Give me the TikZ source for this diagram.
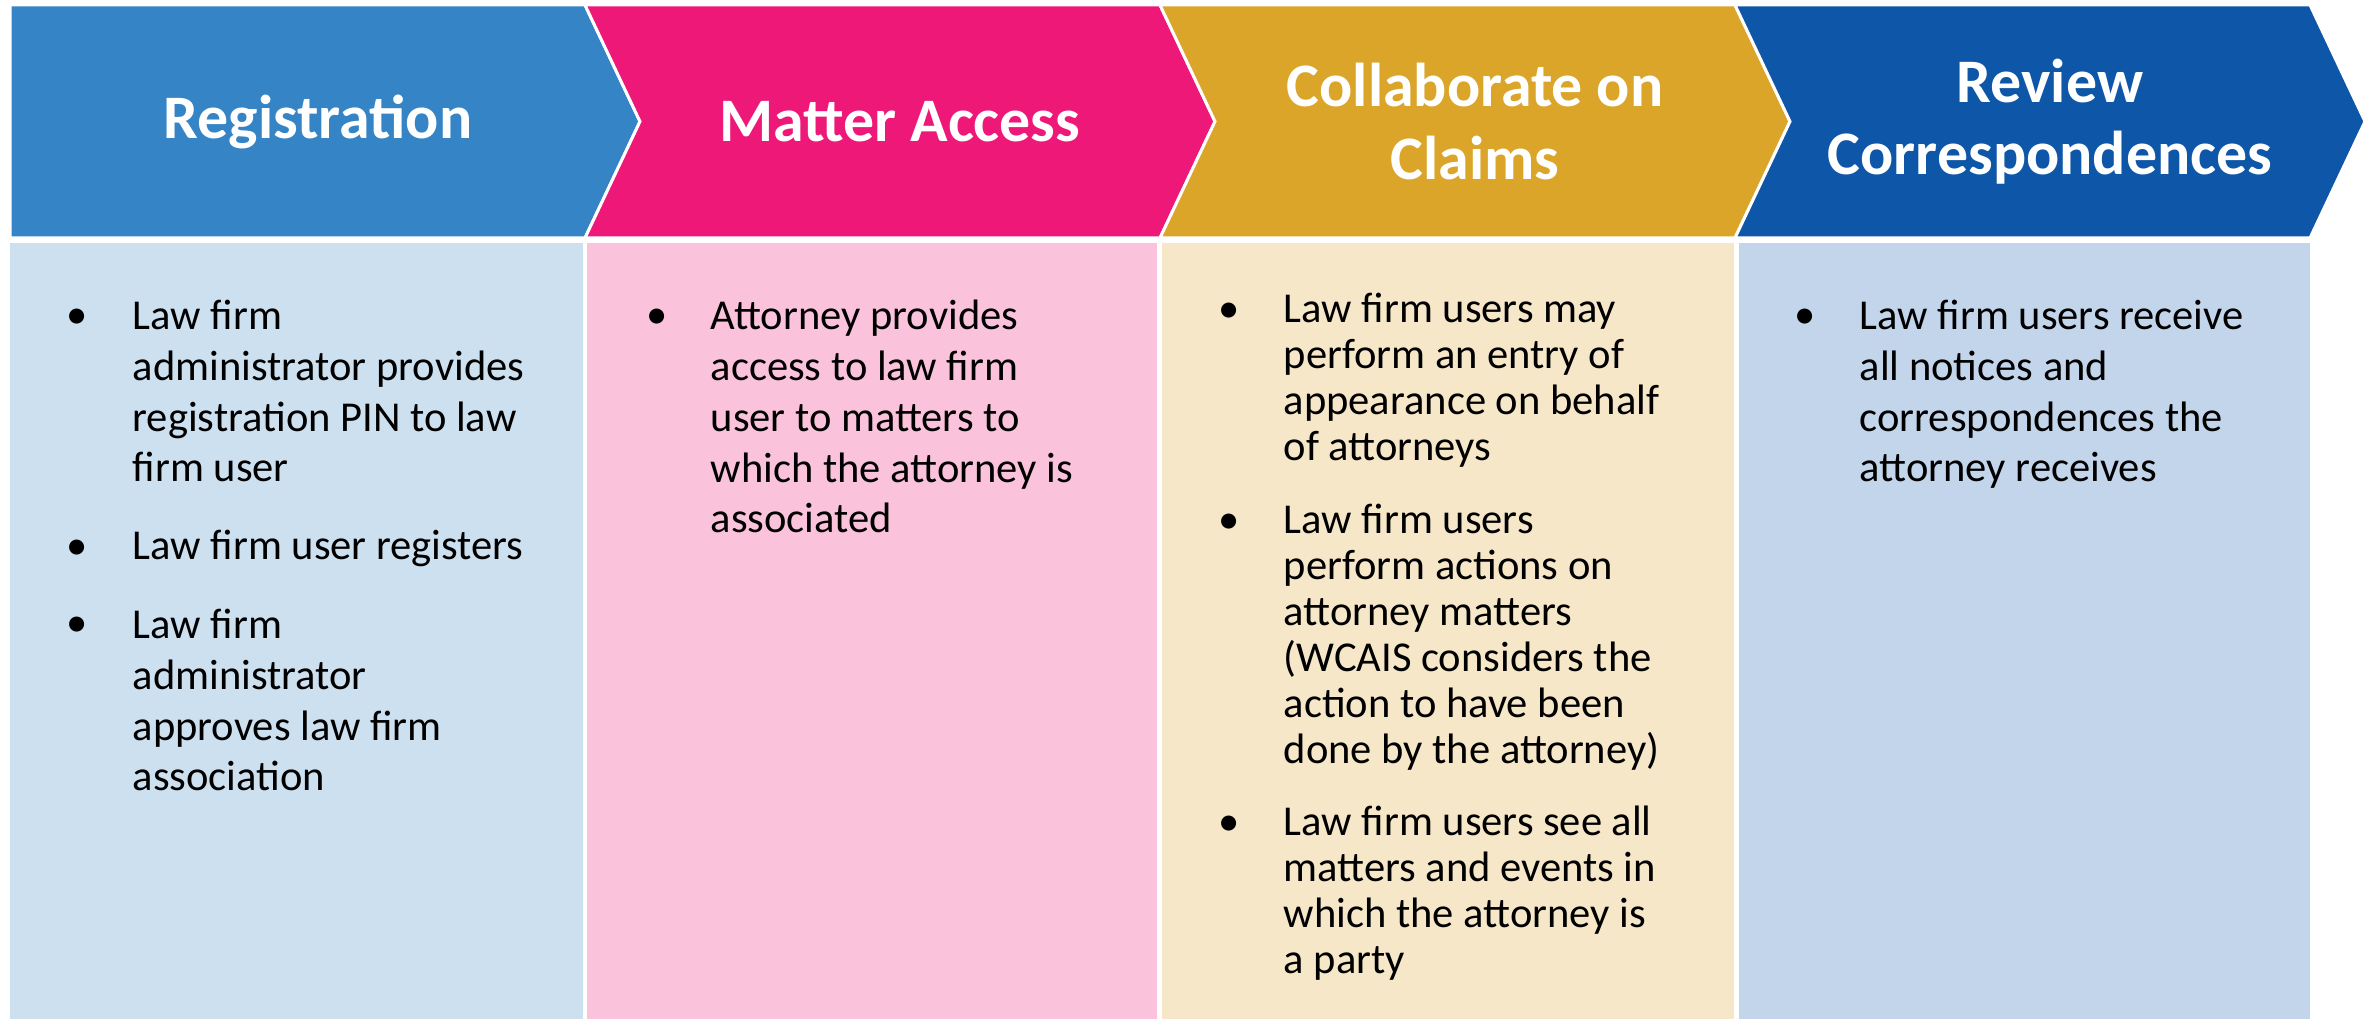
\documentclass[tikz,border=0pt]{standalone}
\usepackage{fontspec}
\setmainfont{Carlito}
\definecolor{regblue}{HTML}{3584C6}
\definecolor{matpink}{HTML}{ED1877}
\definecolor{colgold}{HTML}{DAA528}
\definecolor{revblue}{HTML}{0E56A8}
\definecolor{regbody}{HTML}{CDE0F0}
\definecolor{matbody}{HTML}{FAC3DB}
\definecolor{colbody}{HTML}{F5E7C8}
\definecolor{revbody}{HTML}{C2D5EA}
\begin{document}
\begin{tikzpicture}[x=0.01cm,y=-0.01cm,line join=miter,
	head/.style={fill=#1,draw=white,line width=0.03cm},
	title/.style={text=white,font=\fontsize{17.6}{20.5}\selectfont\bfseries,align=center,inner sep=0},
	item/.style={anchor=base west,align=left,inner sep=0,font=\fontsize{12.1}{14.5}\selectfont},
	itemc/.style={item,font=\fontsize{12.1}{13.1}\selectfont},
	dot/.style={anchor=base,inner sep=0,font=\fontsize{12.1}{14.5}\selectfont}]
	\useasboundingbox (0,0) rectangle (2377,1019);
	%Body
	\fill[regbody] (10,243) rectangle (583,1019);
	\fill[matbody] (587,243) rectangle (1157,1019);
	\fill[colbody] (1162,243) rectangle (1734,1019);
	\fill[revbody] (1739,243) rectangle (2310,1019);
	%Header
	\filldraw[head=regblue] (10,5)--(585,5)--(640,121.5)--(585,238)--(10,238)--cycle;
	\filldraw[head=matpink] (585,5)--(1160,5)--(1215,121.5)--(1160,238)--(585,238)--(640,121.5)--cycle;
	\filldraw[head=colgold] (1160,5)--(1735,5)--(1790,121.5)--(1735,238)--(1160,238)--(1215,121.5)--cycle;
	\filldraw[head=revblue] (1735,5)--(2310,5)--(2365,121.5)--(2310,238)--(1735,238)--(1790,121.5)--cycle;
	\path (318,121.5)node[title](reg){Registration}
	(900,121.5)node[title](mat){Matter Access}
	(1475,121.5)node[title](col){Collaborate on\\Claims}
	(2050,121.5)node[title](rev){Review\\Correspondences};
	%Registration (text nodes sit on their last line)
	\path (77,329)node[dot](reg1b){•} (132,482)node[item](reg1){Law firm\\administrator provides\\registration PIN to law\\firm user}
	(77,560)node[dot](reg2b){•} (132,560)node[item](reg2){Law firm user registers}
	(77,637)node[dot](reg3b){•} (132,791)node[item](reg3){Law firm\\administrator\\approves law firm\\association};
	%Matter Access
	\path (657,329)node[dot](mat1b){•} (710,533)node[item](mat1){Attorney provides\\access to law firm\\user to matters to\\which the attorney is\\associated};
	%Collaborate
	\path (1229,323)node[dot](col1b){•} (1283,461)node[itemc](col1){Law firm users may\\perform an entry of\\appearance on behalf\\of attorneys}
	(1229,534)node[dot](col2b){•} (1283,764)node[itemc](col2){Law firm users\\perform actions on\\attorney matters\\(WCAIS considers the\\action to have been\\done by the attorney)}
	(1229,836)node[dot](col3b){•} (1283,974)node[itemc](col3){Law firm users see all\\matters and events in\\which the attorney is\\a party};
	%Review
	\path (1805,329)node[dot](rev1b){•} (1859,482)node[item](rev1){Law firm users receive\\all notices and\\correspondences the\\attorney receives};
\end{tikzpicture}
\end{document}
